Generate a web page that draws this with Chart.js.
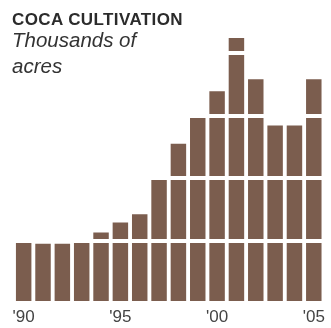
<!DOCTYPE html>
<html>
<head>
<meta charset="utf-8">
<script src="https://cdn.jsdelivr.net/npm/chart.js@4/dist/chart.umd.min.js"></script>
<style>
  body { margin: 0; background: #fff; }
  #wrap { position: relative; width: 331px; height: 328px; }
  .title {
    position: absolute; left: 12px; top: 11px;
    font: bold 17px "Liberation Sans", Arial, sans-serif;
    line-height: 17px; letter-spacing: 0.4px; color: #2b2b2b;
  }
  .sub {
    position: absolute; left: 12px; top: 27px;
    font: italic 20.5px "Liberation Sans", Arial, sans-serif;
    line-height: 26px; color: #333;
  }
</style>
</head>
<body>
<div id="wrap">
  <canvas id="chart" width="331" height="328"></canvas>
  <div class="title">COCA CULTIVATION</div>
  <div class="sub">Thousands of<br>acres</div>
</div>
<script>
'use strict';

// years 1990 - 2005
let YEARS = ['1990', '1991', '1992', '1993', '1994', '1995', '1996', '1997',
             '1998', '1999', '2000', '2001', '2002', '2003', '2004', '2005'];

// thousands of acres
let ACRES = [98, 95, 95, 97, 113, 129, 142, 197, 255, 297, 339, 424, 358, 284, 284, 358];

// only these years get a label
let LABELED = ['1990', '1995', '2000', '2005'];

const BAR_COLOR = '#7b5d4e';

let chart = new Chart(document.getElementById('chart'), {
    type: 'bar',
    data: {
        labels: YEARS,
        datasets: [{
            data: ACRES,
            backgroundColor: BAR_COLOR,
            borderWidth: 0,
            barPercentage: 0.8,
            categoryPercentage: 1.0
        }]
    },
    options: {
        responsive: false,
        animation: false,
        layout: { padding: { left: 14, right: 4, top: 28, bottom: -4 } },
        plugins: {
            legend: { display: false },
            tooltip: { enabled: false }
        },
        scales: {
            x: {
                grid: { display: false, drawTicks: false },
                border: { display: false },
                ticks: {
                    autoSkip: false,
                    maxRotation: 0,
                    padding: 6,
                    color: '#444',
                    font: { family: 'Liberation Sans', size: 17, lineHeight: 1 },
                    callback: function(value, index) {
                        let year = YEARS[index];
                        return LABELED.includes(year) ? "'" + year.slice(2) : '';
                    }
                }
            },
            y: {
                min: 0,
                max: 440,
                border: { display: false },
                ticks: { display: false, stepSize: 100 },
                grid: {
                    // drawn over the bars: white lines cut them into blocks
                    z: 1,
                    drawTicks: false,
                    lineWidth: 4,
                    color: ctx => (ctx.tick && ctx.tick.value > 0 && ctx.tick.value <= 400) ? '#fff' : 'rgba(0,0,0,0)'
                }
            }
        }
    }
});
</script>
</body>
</html>
